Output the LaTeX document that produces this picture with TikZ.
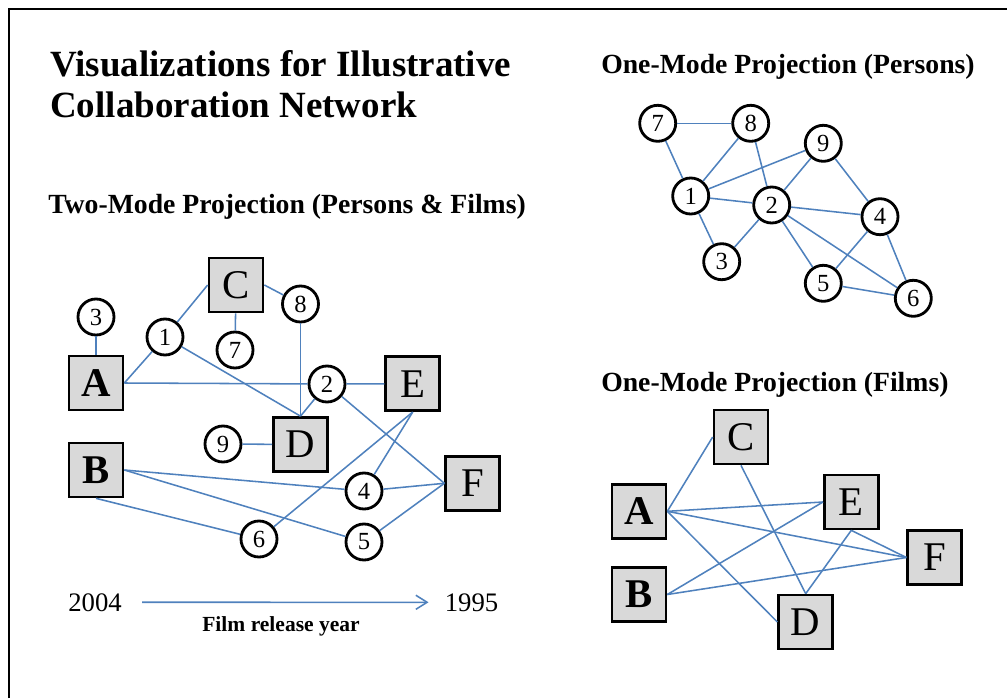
\documentclass[tikz,border=0pt]{standalone}
\usepackage{fontspec}
\setmainfont{Liberation Serif}
\usetikzlibrary{arrows.meta}

\definecolor{linkblue}{RGB}{79,129,189}
\definecolor{filmgray}{RGB}{217,217,217}

\begin{document}
\begin{tikzpicture}[x=0.025cm, y=-0.025cm,
            person/.style={circle, draw, line width=2pt, fill=white, minimum size=0.9cm, inner sep=0pt, font=\fontsize{17.5}{17.5}\selectfont},
            film/.style={rectangle, draw, line width=1.9pt, fill=filmgray, minimum size=1.35cm, inner sep=0pt, font=\fontsize{29}{29}\selectfont},
            tie/.style={linkblue, line width=1.1pt},
            heading/.style={anchor=base west, inner sep=0pt, font=\bfseries\fontsize{19.7}{19.7}\selectfont}]
            \useasboundingbox (0,0) rectangle (1007,698);
            \draw[line width=1.5pt] (9,698) -- (9,9) -- (1007,9);

            \node[heading, font=\bfseries\fontsize{26.3}{26.3}\selectfont] (title1) at (50,76.7) {Visualizations for Illustrative};
            \node[heading, font=\bfseries\fontsize{26.3}{26.3}\selectfont] (title2) at (50,117.3) {Collaboration Network};
            \node[heading] (twohead) at (48,213.3) {Two-Mode Projection (Persons \& Films)};
            \node[heading] (personhead) at (601,73.3) {One-Mode Projection (Persons)};
            \node[heading] (filmhead) at (601,391.7) {One-Mode Projection (Films)};

            % two-mode
            \node[film] (tA) at (96,383) {\textbf{A}};
            \node[film] (tB) at (96,470) {\textbf{B}};
            \node[film] (tC) at (236,285) {C};
            \node[film] (tD) at (300.5,444.5) {D};
            \node[film] (tE) at (412.7,383.7) {E};
            \node[film] (tF) at (472.7,483.3) {F};
            \foreach \n/\x/\y in {1/165/337, 2/327/384, 3/96/317, 4/364/491, 5/364/542, 6/259/539, 7/235/350, 8/300.5/304, 9/223/444}
                \node[person] (t\n) at (\x,\y) {\n};
            \foreach \a/\b in {t3/tA, tA.east/t1, t1/tC.west, t1/tD.north, tC/t7, tC.east/t8, t8/tD.north, tA.east/t2, t2/tE, t2/tD.north, t2/tF.west, t9/tD, tE.south/t4, tE.south/t6, tB.east/t4, tB.east/t5, tB.south/t6, t4/tF.west, t5/tF.west}
                \draw[tie] (\a) -- (\b);

            \node[anchor=base, font=\fontsize{19}{19}\selectfont] (older) at (95,611) {2004};
            \node[anchor=base, font=\fontsize{19}{19}\selectfont] (newer) at (471.5,611) {1995};
            \draw[tie, -{Straight Barb[length=8pt, width=10pt]}, shorten <=11pt, shorten >=8pt] (older.east) -- (newer.west);
            \node[anchor=base, font=\bfseries\fontsize{15.3}{15.3}\selectfont] (axislabel) at (281,631.7) {Film release year};

            % persons
            \foreach \n/\x/\y in {1/690.7/196, 2/771.7/205, 3/721.7/261.7, 4/880/216.7, 5/823.3/283.3, 6/913.3/298.3, 7/657.7/123.3, 8/750.7/123.3, 9/823.3/143.3}
                \node[person] (p\n) at (\x,\y) {\n};
            \foreach \a/\b in {p7/p8, p7/p1, p8/p1, p8/p2, p9/p1, p9/p2, p9/p4, p1/p2, p1/p3, p3/p2, p2/p4, p2/p5, p2/p6, p4/p5, p4/p6, p5/p6}
                \draw[tie] (\a) -- (\b);

            % films
            \node[film] (fA) at (639,511.3) {\textbf{A}};
            \node[film] (fB) at (639,594.5) {\textbf{B}};
            \node[film] (fC) at (741,437) {C};
            \node[film] (fD) at (805.7,622) {D};
            \node[film] (fE) at (851.3,502) {E};
            \node[film] (fF) at (934.7,557.5) {F};
            \foreach \a/\b in {fA.east/fC.west, fA.east/fE.west, fA.east/fF.west, fA.east/fD.west, fB.east/fE.west, fB.east/fF.west, fC.south/fD.north, fE.south/fD.north, fE.south/fF.west}
                \draw[tie] (\a) -- (\b);
        \end{tikzpicture}
\end{document}
